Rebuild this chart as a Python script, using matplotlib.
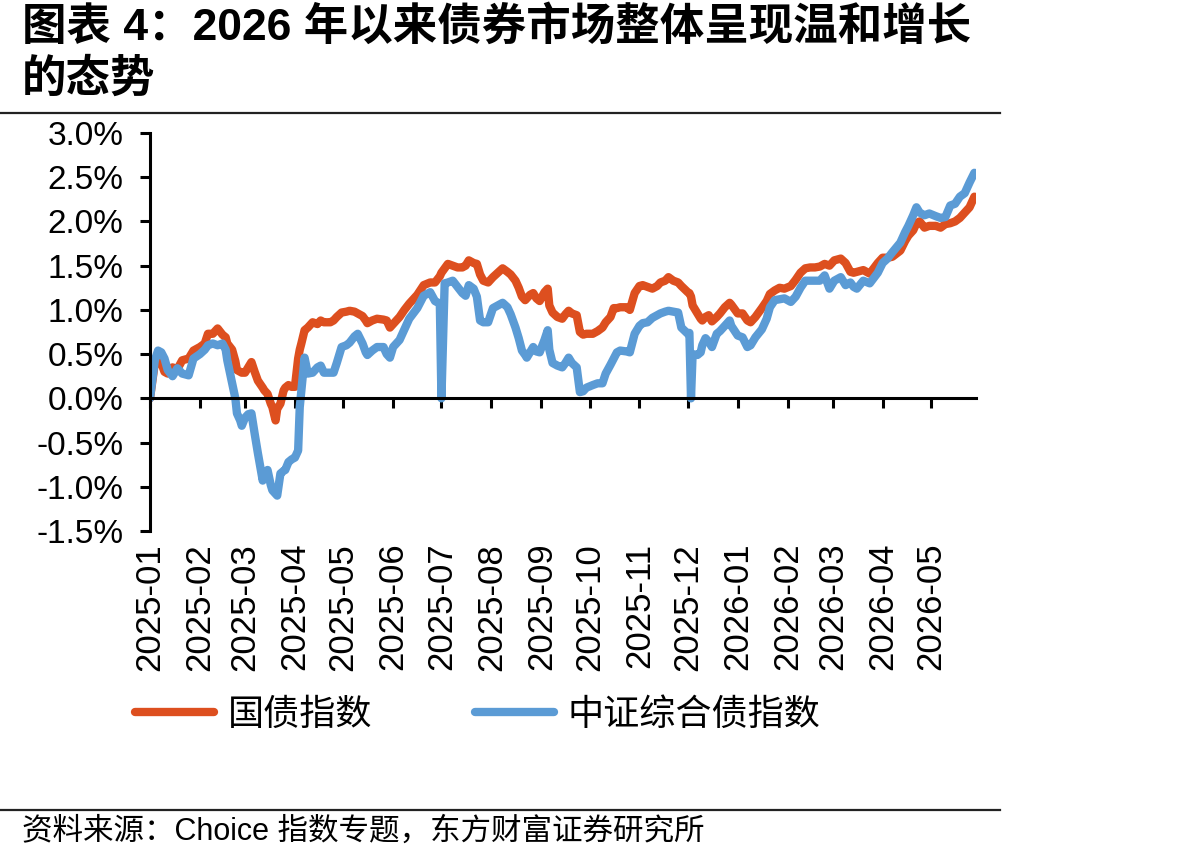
import matplotlib
matplotlib.use('Agg')
import matplotlib.pyplot as plt
import pandas as pd

# days since 2025-01-01, cumulative return (%)
days = [0, 3, 5, 7, 9, 11, 14, 17, 20, 24, 27, 31, 34, 36, 39, 42, 45, 47, 48, 51,
        53, 54, 56, 57, 59, 61, 63, 65, 67, 70, 71, 73, 75, 76, 78, 79, 81, 83, 84, 86,
        88, 90, 92, 93, 94, 96, 98, 101, 104, 106, 108, 112, 114, 116, 119, 122, 124, 127, 129, 132,
        134, 135, 138, 141, 145, 147, 149, 151, 155, 158, 161, 166, 170, 174, 177, 180, 181, 183, 185, 188,
        191, 194, 196, 198, 201, 203, 205, 207, 210, 213, 216, 219, 222, 224, 227, 229, 231, 233, 234, 236,
        238, 240, 242, 245, 247, 248, 250, 253, 256, 258, 260, 262, 265, 267, 269, 271, 275, 278, 281, 283,
        286, 288, 290, 292, 296, 298, 301, 304, 306, 309, 312, 315, 317, 320, 322, 325, 328, 330, 334, 335,
        336, 337, 340, 342, 343, 345, 347, 349, 352, 354, 357, 360, 361, 365, 368, 371, 373, 376, 380, 383,
        385, 388, 391, 394, 398, 401, 404, 407, 410, 413, 416, 419, 422, 425, 429, 432, 435, 437, 439, 443,
        447, 452, 455, 458, 461, 466, 469, 471, 474, 476, 478, 481, 484, 488, 491, 494, 497, 500, 503, 506,
        509, 512]

gov_bond = [0.00, 0.40, 0.46, 0.40, 0.30, 0.28, 0.35, 0.33, 0.43, 0.45, 0.54, 0.58, 0.62, 0.73, 0.73, 0.79, 0.72, 0.69, 0.62, 0.55,
            0.42, 0.32, 0.30, 0.29, 0.29, 0.35, 0.41, 0.30, 0.20, 0.12, 0.09, 0.05, -0.06, -0.10, -0.25, -0.12, -0.06, 0.09, 0.12, 0.15,
            0.13, 0.13, 0.45, 0.55, 0.62, 0.77, 0.80, 0.86, 0.84, 0.88, 0.86, 0.86, 0.88, 0.92, 0.97, 0.98, 0.99, 0.98, 0.96, 0.93,
            0.88, 0.85, 0.88, 0.90, 0.89, 0.88, 0.80, 0.84, 0.92, 1.00, 1.07, 1.17, 1.28, 1.31, 1.31, 1.38, 1.42, 1.47, 1.52, 1.50,
            1.48, 1.48, 1.50, 1.56, 1.53, 1.52, 1.40, 1.33, 1.31, 1.37, 1.42, 1.47, 1.43, 1.40, 1.33, 1.25, 1.15, 1.11, 1.13, 1.17,
            1.19, 1.13, 1.10, 1.20, 1.24, 1.05, 0.97, 0.92, 0.90, 0.95, 0.99, 0.96, 0.94, 0.75, 0.72, 0.73, 0.73, 0.76, 0.80, 0.86,
            0.92, 1.02, 1.02, 1.03, 1.03, 1.00, 1.19, 1.27, 1.28, 1.26, 1.24, 1.27, 1.31, 1.33, 1.37, 1.33, 1.31, 1.27, 1.20, 1.19,
            1.15, 1.05, 0.96, 0.90, 0.88, 0.92, 0.94, 0.87, 0.92, 0.96, 1.03, 1.08, 1.06, 0.96, 0.96, 0.88, 0.86, 0.92, 1.02, 1.10,
            1.18, 1.22, 1.25, 1.24, 1.27, 1.34, 1.42, 1.47, 1.48, 1.48, 1.49, 1.52, 1.50, 1.56, 1.58, 1.53, 1.43, 1.42, 1.43, 1.45,
            1.41, 1.53, 1.59, 1.59, 1.60, 1.67, 1.78, 1.84, 1.90, 1.98, 2.00, 1.93, 1.95, 1.95, 1.93, 1.97, 1.98, 2.00, 2.04, 2.10,
            2.16, 2.28]

composite = [0.00, 0.43, 0.54, 0.52, 0.45, 0.32, 0.25, 0.34, 0.28, 0.26, 0.45, 0.50, 0.55, 0.60, 0.62, 0.60, 0.62, 0.55, 0.43, 0.17,
             0.00, -0.17, -0.25, -0.31, -0.22, -0.18, -0.17, -0.40, -0.62, -0.93, -0.85, -0.81, -0.98, -1.04, -1.08, -1.10, -0.85, -0.82, -0.81, -0.72,
             -0.69, -0.67, -0.59, -0.10, 0.09, 0.46, 0.28, 0.29, 0.35, 0.37, 0.29, 0.29, 0.29, 0.40, 0.58, 0.60, 0.63, 0.70, 0.73, 0.62,
             0.52, 0.49, 0.54, 0.58, 0.58, 0.50, 0.46, 0.58, 0.66, 0.78, 0.90, 1.02, 1.16, 1.20, 1.10, 1.07, 0.00, 1.30, 1.31, 1.33,
             1.26, 1.19, 1.16, 1.28, 1.24, 1.15, 0.88, 0.86, 0.86, 1.02, 1.05, 1.08, 1.03, 0.95, 0.80, 0.68, 0.54, 0.49, 0.46, 0.52,
             0.58, 0.53, 0.52, 0.66, 0.77, 0.55, 0.40, 0.37, 0.35, 0.40, 0.46, 0.40, 0.35, 0.07, 0.08, 0.12, 0.15, 0.17, 0.17, 0.28,
             0.38, 0.45, 0.52, 0.54, 0.53, 0.52, 0.73, 0.82, 0.85, 0.86, 0.91, 0.94, 0.96, 0.98, 0.99, 0.98, 0.97, 0.80, 0.73, 0.74,
             0.00, 0.50, 0.49, 0.52, 0.60, 0.68, 0.64, 0.58, 0.73, 0.76, 0.82, 0.88, 0.82, 0.71, 0.69, 0.58, 0.60, 0.69, 0.78, 0.90,
             1.03, 1.11, 1.12, 1.13, 1.09, 1.15, 1.25, 1.33, 1.33, 1.33, 1.33, 1.39, 1.24, 1.33, 1.37, 1.28, 1.31, 1.26, 1.24, 1.33,
             1.30, 1.42, 1.53, 1.58, 1.65, 1.76, 1.88, 1.95, 2.07, 2.16, 2.10, 2.07, 2.09, 2.06, 2.04, 2.05, 2.18, 2.20, 2.28, 2.32,
             2.44, 2.55]

series_names = ['国债指数', '中证综合债指数']
y_ticks = [-1.5, -1.0, -0.5, 0.0, 0.5, 1.0, 1.5, 2.0, 2.5, 3.0]
y_labels = ['-1.5%', '-1.0%', '-0.5%', '0.0%', '0.5%', '1.0%', '1.5%', '2.0%', '2.5%', '3.0%']
months = pd.date_range('2025-01-01', '2026-05-01', freq='MS')

start = pd.Timestamp('2025-01-01')
dates = start + pd.to_timedelta(days, unit='D')

plt.rcParams['font.family'] = ['Liberation Sans', 'Noto Sans CJK SC']
cjk = ['Noto Sans CJK SC', 'DejaVu Sans']

fig = plt.figure(figsize=(11.92, 8.64), dpi=100)
ax = fig.add_axes([150 / 1192, 1 - 531 / 864, 826 / 1192, 398 / 864])

red = '#DD4F1F'
blue = '#5B9BD5'
ax.plot(dates, gov_bond, color=red, lw=6, solid_capstyle='round', solid_joinstyle='round', label=series_names[0])
ax.plot(dates, composite, color=blue, lw=6, solid_capstyle='round', solid_joinstyle='round', label=series_names[1])

ax.set_ylim(-1.5, 3.0)
ax.set_xlim(start, start + pd.Timedelta(days=513))

for s in ['top', 'right']:
    ax.spines[s].set_visible(False)
ax.spines['bottom'].set_position(('data', 0))
ax.spines['bottom'].set_linewidth(2.2)
ax.spines['left'].set_linewidth(2.2)
ax.tick_params(axis='y', direction='out', length=7, width=2.2, pad=12, labelsize=24)
ax.tick_params(axis='x', direction='out', length=7, width=2.2, pad=97, labelsize=25, labelrotation=90)

ax.set_yticks(y_ticks)
ax.set_yticklabels(y_labels)
ax.set_xticks(months)
ax.set_xticklabels([m.strftime('%Y-%m') for m in months], rotation=90, fontsize=25, va='top', ha='center')

leg = ax.legend(loc='center left', bbox_to_anchor=(135 / 1192, 1 - 715 / 864), bbox_transform=fig.transFigure,
                ncol=2, frameon=False, prop={'family': cjk, 'size': 26}, handlelength=2.2,
                handletextpad=0.36, columnspacing=2.85, borderpad=0, borderaxespad=0)

title_font = ['Liberation Sans', 'Noto Sans CJK SC']
fig.text(22 / 1192, 1 - 6 / 864, '图表 4：2026 年以来债券市场整体呈现温和增长', fontsize=32, fontweight='bold',
         family=title_font, va='top', ha='left')
fig.text(22 / 1192, 1 - 58 / 864, '的态势', fontsize=32, fontweight='bold',
         family=title_font, va='top', ha='left')
fig.text(22 / 1192, 1 - 832 / 864, '资料来源：Choice 指数专题，东方财富证券研究所', fontsize=22,
         family=title_font, va='center', ha='left')

fig.add_artist(plt.Line2D([0, 1000 / 1192], [1 - 113 / 864] * 2, color='#222222', lw=1.6, transform=fig.transFigure))
fig.add_artist(plt.Line2D([0, 1000 / 1192], [1 - 810 / 864] * 2, color='#222222', lw=1.6, transform=fig.transFigure))

fig.savefig('out.png', dpi=100)
